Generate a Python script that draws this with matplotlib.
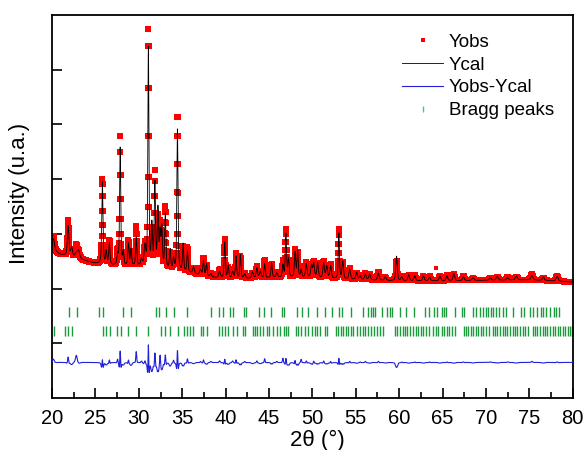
import numpy as np
import matplotlib
matplotlib.use('Agg')
import matplotlib.pyplot as plt
from matplotlib.lines import Line2D
from matplotlib.ticker import MultipleLocator

plt.rcParams['font.family'] = ['Liberation Sans', 'DejaVu Sans']

# ---------------- data ----------------
# background level (arbitrary units) at a few 2theta positions
bg_angle = [20, 21, 22.5, 24, 25, 27, 30, 33, 36, 38, 40, 43, 46, 50, 55, 60, 65, 70, 75, 80]
bg_level = [1.70, 1.62, 1.58, 1.50, 1.46, 1.42, 1.40, 1.35, 1.28, 1.21, 1.18, 1.18, 1.20,
            1.20, 1.16, 1.14, 1.14, 1.15, 1.16, 1.12]

# reflections: position (deg), observed height, calculated height, FWHM (deg)
peak_pos = [20.15, 21.85, 22.25, 22.8, 23.05, 25.8, 26.25, 26.6, 27.55, 27.85, 28.2, 28.8,
            29.1, 29.7, 30.3, 30.7, 31.1, 31.5, 31.85, 32.2, 32.45, 32.65, 33.05, 33.6,
            34.0, 34.45, 35.1, 35.6, 36.3, 37.1, 37.45, 37.8, 38.3, 39.3, 39.9, 40.3,
            40.8, 41.2, 41.7, 42.2, 43.1, 43.6, 44.0, 44.5, 45.3, 45.9, 46.6, 46.95,
            47.25, 48.0, 48.3, 48.7, 49.3, 49.9, 50.15, 50.6, 51.3, 51.65, 52.1, 53.05,
            53.5, 54.3, 55.1, 55.5, 56.1, 56.6, 57.6, 58.4, 59.7, 60.3, 61.1, 61.8,
            62.8, 63.5, 64.7, 65.5, 66.3, 67.4, 68.5, 70.5, 71.3, 72.5, 73.5, 75.3,
            76.6, 78.2]
peak_h_obs = [0.28, 0.65, 0.12, 0.22, 0.12, 1.55, 0.20, 0.45, 0.25, 2.40, 0.20, 0.45,
              0.25, 0.72, 0.15, 0.40, 4.33, 0.60, 1.75, 0.90, 0.80, 0.60, 1.15, 0.30,
              0.25, 2.85, 0.45, 0.45, 0.10, 0.12, 0.32, 0.20, 0.08, 0.15, 0.72, 0.20,
              0.15, 0.45, 0.40, 0.10, 0.10, 0.22, 0.10, 0.33, 0.25, 0.10, 0.30, 0.88,
              0.30, 0.50, 0.45, 0.20, 0.28, 0.20, 0.28, 0.25, 0.30, 0.20, 0.25, 0.92,
              0.30, 0.20, 0.12, 0.08, 0.12, 0.10, 0.15, 0.06, 0.36, 0.08, 0.10, 0.10,
              0.08, 0.08, 0.08, 0.10, 0.12, 0.08, 0.04, 0.05, 0.06, 0.05, 0.06, 0.10,
              0.05, 0.10]
peak_h_cal = [0.22, 0.55, 0.16, 0.08, 0.14, 1.50, 0.24, 0.40, 0.18, 2.18, 0.24, 0.40,
              0.30, 0.52, 0.12, 0.36, 4.00, 0.75, 1.55, 1.05, 0.62, 0.72, 1.00, 0.36,
              0.20, 2.62, 0.50, 0.38, 0.12, 0.10, 0.27, 0.23, 0.06, 0.12, 0.66, 0.23,
              0.12, 0.40, 0.43, 0.08, 0.12, 0.19, 0.12, 0.26, 0.27, 0.08, 0.22, 0.80,
              0.34, 0.46, 0.48, 0.14, 0.25, 0.22, 0.25, 0.27, 0.27, 0.22, 0.23, 0.84,
              0.32, 0.18, 0.13, 0.07, 0.10, 0.11, 0.13, 0.07, 0.45, 0.07, 0.11, 0.09,
              0.09, 0.07, 0.09, 0.09, 0.13, 0.07, 0.05, 0.04, 0.07, 0.04, 0.07, 0.08,
              0.06, 0.09]
peak_fwhm = [0.30, 0.18, 0.20, 0.25, 0.25, 0.15, 0.15, 0.15, 0.15, 0.14, 0.15, 0.15,
             0.15, 0.15, 0.20, 0.20, 0.13, 0.15, 0.15, 0.15, 0.15, 0.15, 0.15, 0.15,
             0.15, 0.14, 0.15, 0.15, 0.20, 0.20, 0.15, 0.15, 0.20, 0.20, 0.15, 0.15,
             0.20, 0.15, 0.15, 0.20, 0.20, 0.18, 0.20, 0.15, 0.15, 0.20, 0.15, 0.15,
             0.15, 0.15, 0.15, 0.15, 0.18, 0.18, 0.18, 0.18, 0.18, 0.18, 0.18, 0.14,
             0.18, 0.20, 0.20, 0.20, 0.20, 0.20, 0.20, 0.20, 0.18, 0.20, 0.20, 0.20,
             0.20, 0.20, 0.20, 0.20, 0.20, 0.20, 0.25, 0.25, 0.25, 0.25, 0.25, 0.25,
             0.25, 0.25]

# isolated observed outlier point
outlier_angle = [64.25]
outlier_int = [1.38]

# Bragg reflection positions (two phases)
bragg_row1 = [21.93, 22.93, 25.42, 25.85, 28.19, 29.08, 31.95, 32.30, 33.08, 34.04, 35.60,
              38.28, 39.26, 39.75, 40.50, 40.80, 42.15, 42.35, 43.86, 44.45, 45.20, 46.50,
              46.75, 48.19, 48.77, 49.53, 50.57, 51.45, 52.23, 53.10, 53.38, 54.42, 55.87,
              56.45, 56.72, 57.02, 57.22, 57.99, 58.57, 58.95, 59.14, 60.10, 60.76, 61.72,
              62.99, 63.49, 64.03, 64.34, 64.92, 65.18, 65.41, 66.45, 67.22, 67.49, 68.49,
              68.87, 69.26, 69.65, 70.03, 70.29, 70.57, 70.87, 71.18, 71.56, 72.02, 72.34,
              73.11, 74.03, 74.33, 75.02, 75.48, 75.87, 76.33, 76.63, 76.94, 77.40, 77.79,
              78.10, 78.41]
bragg_row2 = [20.20, 21.46, 21.85, 22.24, 25.88, 26.27, 26.66, 27.54, 27.92, 28.77, 29.65,
              31.10, 32.54, 33.00, 33.57, 34.53, 35.19, 35.57, 35.88, 36.26, 37.12, 37.35,
              37.81, 39.26, 39.54, 39.92, 40.31, 40.81, 41.27, 42.03, 42.26, 43.11, 43.38,
              43.64, 43.96, 44.34, 44.73, 45.03, 45.49, 45.88, 46.27, 46.73, 46.96, 47.23,
              48.11, 48.38, 48.65, 49.15, 49.53, 49.92, 50.30, 50.57, 50.88, 51.45, 51.72,
              52.72, 52.99, 53.26, 53.57, 53.88, 54.14, 54.42, 54.72, 55.11, 55.49, 55.80,
              56.07, 56.45, 56.72, 57.10, 57.41, 57.80, 58.19, 59.53, 59.80, 60.10, 60.41,
              60.68, 60.95, 61.26, 61.64, 61.95, 62.22, 62.49, 62.80, 63.10, 63.49, 63.88,
              64.26, 64.53, 64.91, 65.18, 65.49, 65.79, 66.07, 66.45, 67.49, 67.72, 67.98,
              68.26, 68.56, 68.87, 69.13, 69.41, 69.71, 70.02, 70.40, 70.80, 71.06, 71.33,
              71.64, 71.95, 72.21, 72.48, 72.79, 73.10, 73.37, 73.63, 73.94, 74.26, 74.52,
              74.79, 75.41, 75.67, 75.94, 76.25, 76.56, 76.83, 77.09, 77.40, 77.71, 77.98,
              78.25, 78.56, 78.87, 79.13, 79.40, 79.71, 79.90]

diff_offset = -0.35
bragg_level1 = 0.57
bragg_level2 = 0.23

# ---------------- profile ----------------
two_theta = np.arange(20.0, 80.0001, 0.02)


def pseudo_voigt(x, x0, h, w, eta=0.5):
    d = (x - x0) / w
    return h * (eta / (1 + 4 * d ** 2) + (1 - eta) * np.exp(-4 * np.log(2) * d ** 2))


bg = np.interp(two_theta, bg_angle, bg_level)
y_obs = bg.copy()
y_cal = bg.copy()
for p, ho, hc, w in zip(peak_pos, peak_h_obs, peak_h_cal, peak_fwhm):
    y_obs += pseudo_voigt(two_theta, p, ho, w)
    y_cal += pseudo_voigt(two_theta, p, hc, w * 1.12)
y_diff = y_obs - y_cal + diff_offset

# ---------------- figure ----------------
fig = plt.figure(figsize=(5.85, 4.5), dpi=100)
ax = fig.add_axes([0.089, 0.1156, 0.890, 0.851])

ax.plot(two_theta, y_obs, ls='none', marker='s', ms=4.0, color='#ff0000', mec='#ff0000',
        mew=0, zorder=2)
ax.plot(outlier_angle, outlier_int, ls='none', marker='s', ms=3.5, color='#ff0000', mew=0,
        zorder=2)
ax.plot(two_theta, y_cal, color='black', lw=0.6, zorder=3)
ax.plot(two_theta, y_diff, color='#2020d8', lw=0.8, zorder=3)
ax.plot(bragg_row1, np.full(len(bragg_row1), bragg_level1), ls='none', marker='|', ms=6.5,
        mew=1.0, color='#1e9a3e', zorder=2)
ax.plot(bragg_row2, np.full(len(bragg_row2), bragg_level2), ls='none', marker='|', ms=6.5,
        mew=1.0, color='#1e9a3e', zorder=2)

ax.set_xlim(20, 80)
ax.set_ylim(-1, 6)
ax.xaxis.set_major_locator(MultipleLocator(5))
ax.xaxis.set_minor_locator(MultipleLocator(2.5))
ax.set_yticks(range(6))
ax.set_yticklabels([])
ax.tick_params(which='both', direction='in', top=False, right=False, width=1.2)
ax.tick_params(which='major', length=7, labelsize=14.5, pad=8)
ax.tick_params(which='minor', length=4)
for s in ax.spines.values():
    s.set_linewidth(1.3)

ax.set_xlabel('2θ (°)', fontsize=16)
ax.xaxis.set_label_coords(0.51, -0.083)
ax.set_ylabel('Intensity (u.a.)', fontsize=16)
ax.yaxis.set_label_coords(-0.042, 0.535)

handles = [
    Line2D([], [], ls='none', marker='s', ms=2.5, color='#ff0000', mew=0),
    Line2D([], [], color='black', lw=0.6),
    Line2D([], [], color='#2020d8', lw=0.8),
    Line2D([], [], ls='none', marker='|', ms=5, mew=1.0, color='#5cc07a'),
]
labels = ['Yobs', 'Ycal', 'Yobs-Ycal', 'Bragg peaks']
ax.legend(handles, labels, loc='upper right', frameon=False, fontsize=13.5,
          handlelength=2.2, handletextpad=0.3, labelspacing=0.3,
          borderaxespad=0.6)

fig.savefig('out.png', dpi=100)
